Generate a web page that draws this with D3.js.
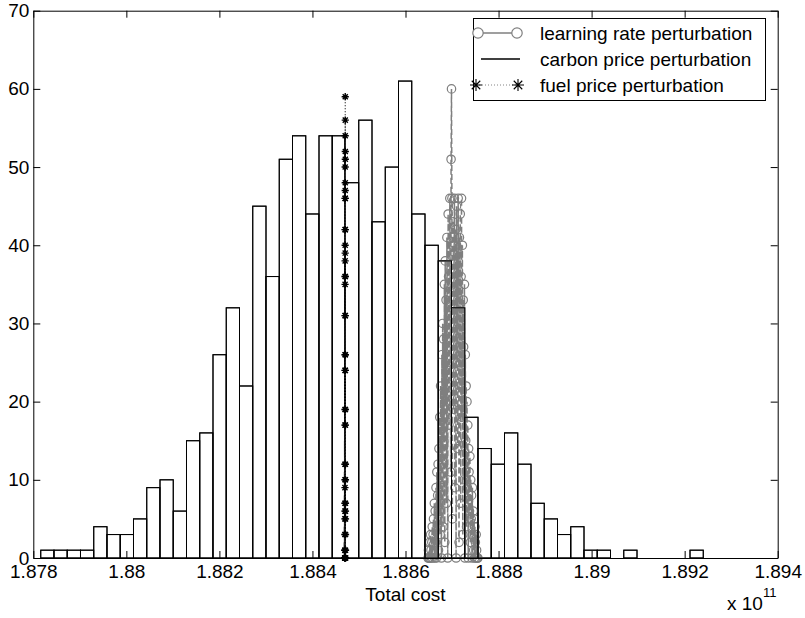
<!DOCTYPE html>
<html>
<head>
<meta charset="utf-8">
<script src="https://cdn.jsdelivr.net/npm/d3@7"></script>
<style>
  html, body { margin: 0; padding: 0; background: #fff; }
  svg { display: block; font-family: "Liberation Sans", Arial, Helvetica, sans-serif; }
</style>
</head>
<body>
<svg id="chart" width="805" height="618"></svg>
<script>
// Total cost histogram (cost in units of 1e11), 50 equal-width bins
const histRange = [1.87816, 1.89240];
const histCounts = [1, 1, 1, 1, 4, 3, 3, 5, 9, 10, 6, 15, 16, 26, 32, 22, 45, 36, 51, 54,
                    44, 54, 54, 48, 56, 43, 50, 61, 44, 40, 38, 32, 18, 14, 12, 16, 12, 7, 5, 3,
                    4, 1, 1, 0, 1, 0, 0, 0, 0, 1];

// Perturbation runs: bin counts over each run's (narrow) cost range
const learningRange = [1.88648, 1.88756];
const learningCounts = [
  0, 1, 0, 0, 2, 0, 3, 1, 0, 2,
  4, 0, 3, 5, 1, 7, 0, 6, 2, 9,
  0, 11, 4, 8, 12, 1, 14, 6, 18, 3,
  22, 9, 0, 26, 12, 30, 4, 28, 15, 35,
  2, 38, 20, 33, 7, 41, 24, 0, 44, 36,
  17, 28, 46, 31, 11, 51, 60, 46, 5, 40,
  43, 19, 37, 46, 9, 34, 42, 0, 45, 25,
  39, 14, 46, 30, 2, 41, 22, 44, 7, 36,
  46, 18, 40, 3, 33, 27, 10, 35, 0, 26,
  15, 22, 4, 20, 9, 17, 0, 14, 11, 6,
  13, 2, 10, 5, 8, 0, 9, 3, 6, 1,
  5, 0, 4, 2, 0, 3, 1, 0, 0, 0];

const carbonRange = [1.884685, 1.884700];
const carbonCounts = [0, 0, 1, 2, 0, 4, 3, 8, 6, 11, 9, 15, 13, 20, 18, 27, 22, 33, 30, 38,
                      36, 44, 41, 49, 45, 54, 47, 50, 52, 46, 43, 40, 37, 34, 29, 25, 21, 16, 14, 10,
                      8, 6, 4, 3, 2, 1, 0, 1, 0, 0];

const fuelRange = [1.884695, 1.884712];
const fuelCounts = [0, 0, 1, 0, 3, 0, 5, 1, 7, 6, 12, 9, 17, 10, 24, 19, 31, 26, 36, 35,
                    42, 38, 46, 40, 50, 39, 54, 47, 59, 48, 56, 46, 52, 51, 42, 36, 31, 24, 26, 17,
                    19, 12, 10, 7, 6, 5, 3, 1, 0, 0];

const xTicks = [1.878, 1.880, 1.882, 1.884, 1.886, 1.888, 1.890, 1.892, 1.894];
const xTickLabels = ["1.878", "1.88", "1.882", "1.884", "1.886", "1.888", "1.89", "1.892", "1.894"];
const yTicks = [0, 10, 20, 30, 40, 50, 60, 70];
const seriesNames = ["learning rate perturbation", "carbon price perturbation", "fuel price perturbation"];
const xLabel = "Total cost";

const FONT = 19;
const GRAY = "#7f7f7f";

const svg = d3.select("#chart");
const x = d3.scaleLinear().domain([1.878, 1.894]).range([33.3, 777.7]);
const y = d3.scaleLinear().domain([0, 70]).range([558, 10.7]);

// histogram bins
const binW = (histRange[1] - histRange[0]) / histCounts.length;
const bins = histCounts.map((c, i) => ({ x0: histRange[0] + i * binW, x1: histRange[0] + (i + 1) * binW, n: c }))
  .filter(b => b.n > 0);

function binPoints(range, counts) {
  const w = (range[1] - range[0]) / counts.length;
  return counts.map((c, i) => ({ cost: range[0] + (i + 0.5) * w, n: c }));
}

const gBars = svg.append("g");
gBars.selectAll("rect").data(bins).join("rect")
  .attr("x", d => x(d.x0)).attr("width", d => x(d.x1) - x(d.x0))
  .attr("y", d => y(d.n)).attr("height", d => y(0) - y(d.n))
  .attr("fill", "#fff").attr("stroke", "#000").attr("stroke-width", 1);

const line = d3.line().x(d => x(d.cost)).y(d => y(d.n));

// learning rate perturbation: dashed gray with open circles
const lr = binPoints(learningRange, learningCounts);
svg.append("path").datum(lr).attr("d", line)
  .attr("fill", "none").attr("stroke", GRAY).attr("stroke-width", 1.5).attr("stroke-dasharray", "6,3");
svg.append("g").selectAll("circle").data(lr).join("circle")
  .attr("cx", d => x(d.cost)).attr("cy", d => y(d.n)).attr("r", 4.2)
  .attr("fill", "none").attr("stroke", GRAY).attr("stroke-width", 1.2);

// bar outlines stay visible above the dense cluster
svg.append("g").selectAll("rect").data(bins).join("rect")
  .attr("x", d => x(d.x0)).attr("width", d => x(d.x1) - x(d.x0))
  .attr("y", d => y(d.n)).attr("height", d => y(0) - y(d.n))
  .attr("fill", "none").attr("stroke", "#000").attr("stroke-width", 1);

// carbon price perturbation: solid black
const cp = binPoints(carbonRange, carbonCounts);
svg.append("path").datum(cp).attr("d", line)
  .attr("fill", "none").attr("stroke", "#000").attr("stroke-width", 1);

// fuel price perturbation: dotted with asterisks
function asterisk(s) {
  const d = s * 0.7071;
  return `M${-s},0L${s},0M0,${-s}L0,${s}M${-d},${-d}L${d},${d}M${-d},${d}L${d},${-d}`;
}
const fp = binPoints(fuelRange, fuelCounts);
svg.append("path").datum(fp).attr("d", line)
  .attr("fill", "none").attr("stroke", "#333").attr("stroke-width", 0.8).attr("stroke-dasharray", "1,2");
svg.append("g").selectAll("path").data(fp).join("path")
  .attr("transform", d => `translate(${x(d.cost)},${y(d.n)})`)
  .attr("d", asterisk(3.6)).attr("fill", "none").attr("stroke", "#000").attr("stroke-width", 1.4);

// axes box with inward ticks
function styleAxis(g) {
  g.attr("font-size", null).attr("font-family", null);
  g.selectAll("path.domain").attr("stroke", "#000").attr("stroke-width", 1);
  g.selectAll(".tick line").attr("stroke", "#000").attr("stroke-width", 1);
  g.selectAll(".tick text").attr("fill", "#000").style("font-size", FONT + "px");
}
svg.append("g").attr("transform", `translate(0,${y(0)})`)
  .call(d3.axisBottom(x).tickValues(xTicks).tickFormat((d, i) => xTickLabels[i])
    .tickSizeInner(-7).tickSizeOuter(0).tickPadding(6.5))
  .call(styleAxis);
svg.append("g").attr("transform", `translate(0,${y(70)})`)
  .call(d3.axisTop(x).tickValues(xTicks).tickFormat("").tickSizeInner(-7).tickSizeOuter(0))
  .call(styleAxis);
svg.append("g").attr("transform", `translate(${x(1.878)},0)`)
  .call(d3.axisLeft(y).tickValues(yTicks).tickFormat(d3.format("d"))
    .tickSizeInner(-7).tickSizeOuter(0).tickPadding(4))
  .call(styleAxis);
svg.append("g").attr("transform", `translate(${x(1.894)},0)`)
  .call(d3.axisRight(y).tickValues(yTicks).tickFormat("").tickSizeInner(-7).tickSizeOuter(0))
  .call(styleAxis);

// axis label and exponent
svg.append("text").attr("x", (x(1.878) + x(1.894)) / 2).attr("y", 601)
  .attr("text-anchor", "middle").style("font-size", FONT + "px").text(xLabel);
const expo = svg.append("text").attr("x", 727).attr("y", 610).style("font-size", FONT + "px");
expo.append("tspan").text("x 10");
expo.append("tspan").attr("dy", -13).style("font-size", "13px").text("11");

// legend
const lg = svg.append("g");
lg.append("rect").attr("x", 473.5).attr("y", 18.5).attr("width", 292).attr("height", 82)
  .attr("fill", "#fff").attr("stroke", "#000").attr("stroke-width", 1);
const rowY = [33, 59, 85];
const sx0 = 478, sx1 = 517;
// row 1
lg.append("line").attr("x1", sx0).attr("x2", sx1).attr("y1", rowY[0]).attr("y2", rowY[0])
  .attr("stroke", GRAY).attr("stroke-width", 1.3);
[sx0, sx1].forEach(cx => lg.append("circle").attr("cx", cx).attr("cy", rowY[0]).attr("r", 5.2)
  .attr("fill", "#fff").attr("stroke", GRAY).attr("stroke-width", 1.2));
// row 2
lg.append("line").attr("x1", 481).attr("x2", 520).attr("y1", rowY[1]).attr("y2", rowY[1])
  .attr("stroke", "#000").attr("stroke-width", 1.4);
// row 3
lg.append("line").attr("x1", 476).attr("x2", 518).attr("y1", rowY[2]).attr("y2", rowY[2])
  .attr("stroke", "#666").attr("stroke-width", 0.8).attr("stroke-dasharray", "1,2");
[476, 518].forEach(cx => lg.append("path").attr("transform", `translate(${cx},${rowY[2]})`)
  .attr("d", asterisk(6)).attr("fill", "none").attr("stroke", "#000").attr("stroke-width", 1.1));
seriesNames.forEach((s, i) => lg.append("text").attr("x", 540).attr("y", rowY[i]).attr("dy", "0.35em")
  .style("font-size", FONT + "px").text(s));
</script>
</body>
</html>
